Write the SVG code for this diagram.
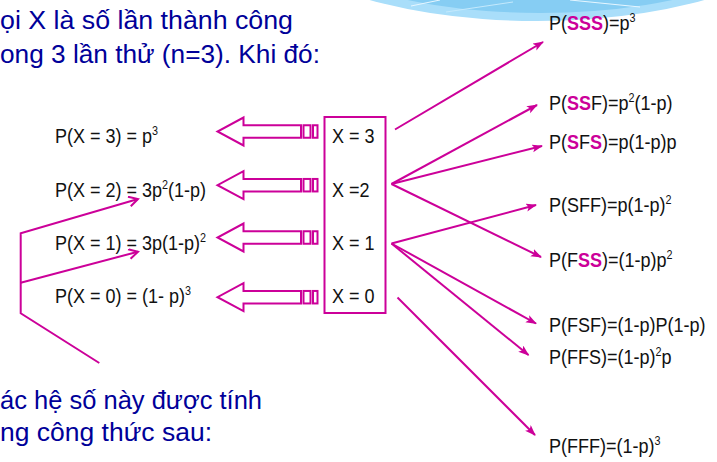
<svg xmlns="http://www.w3.org/2000/svg" width="717" height="462" viewBox="0 0 717 462">
<style>
.title{font-family:"Liberation Sans",Arial,sans-serif;font-size:25px;fill:#000099}
.lbl{font-family:"Liberation Sans",Arial,sans-serif;font-size:20px;fill:#111}
.hl{font-weight:bold;fill:#cc0099}
.sup{font-size:12px}
.ln{fill:none;stroke:#cc0099;stroke-width:2}
.blk{fill:#fff;stroke:#cc0099;stroke-width:2;stroke-linejoin:miter}
</style>
<defs>
<marker id="tri" markerUnits="userSpaceOnUse" markerWidth="12" markerHeight="9" refX="10" refY="4" orient="auto">
<path d="M0,0 L11,4 L0,8 L2.5,4 z" fill="#cc0099"/>
</marker>
<marker id="open" markerUnits="userSpaceOnUse" markerWidth="13" markerHeight="12" refX="10" refY="5.5" orient="auto">
<path d="M1,0.5 L10,5.5 L1,10.5" fill="none" stroke="#cc0099" stroke-width="2"/>
</marker>
<clipPath id="ec"><ellipse cx="537" cy="-84" rx="279" ry="105"/></clipPath>
<g id="blockArrow">
<path class="blk" d="M243.5,-6.25 L301,-6.25 L301,6.25 L243.5,6.25 L243.5,14 L217.5,0 L243.5,-14 Z"/>
<rect class="blk" x="303.5" y="-6.25" width="7" height="12.5"/>
<rect class="blk" x="313" y="-6.25" width="4.5" height="12.5"/>
</g>
</defs>

<g id="decoration">
<ellipse cx="537" cy="-84" rx="279" ry="105" fill="#a9defa"/>
<g clip-path="url(#ec)">
<ellipse cx="540" cy="-93" rx="276" ry="106" fill="#86cdf3"/>
<path d="M411,6 L440,0" stroke="#e6f6ff" stroke-width="1" fill="none"/>
<path d="M570,0 L640,7" stroke="#e6f6ff" stroke-width="1" fill="none"/>
<path d="M446,12 L513,2" stroke="#c4e9fc" stroke-width="1" fill="none"/>
</g>
</g>

<g id="title">
<text class="title" x="0" y="29" textLength="293" lengthAdjust="spacingAndGlyphs">ọi X là số lần thành công</text>
<text class="title" x="0" y="63" textLength="320" lengthAdjust="spacingAndGlyphs">ong 3 lần thử (n=3). Khi đó:</text>
</g>

<g id="note">
<text class="title" x="0" y="409" textLength="262" lengthAdjust="spacingAndGlyphs">ác hệ số này được tính</text>
<text class="title" x="0" y="441" textLength="212" lengthAdjust="spacingAndGlyphs">ng công thức sau:</text>
</g>

<g id="px3"><text class="lbl" transform="translate(55,143) scale(0.9,1)">P(X = 3) = p<tspan class="sup" dy="-8">3</tspan></text></g>
<g id="px2"><text class="lbl" transform="translate(55,197) scale(0.9,1)">P(X = 2) = 3p<tspan class="sup" dy="-8">2</tspan><tspan dy="8">(1-p)</tspan></text></g>
<g id="px1"><text class="lbl" transform="translate(55,249.5) scale(0.9,1)">P(X = 1) = 3p(1-p)<tspan class="sup" dy="-8">2</tspan></text></g>
<g id="px0"><text class="lbl" transform="translate(55,303) scale(0.9,1)">P(X = 0) = (1- p)<tspan class="sup" dy="-8">3</tspan></text></g>

<g id="xbox">
<rect x="324.5" y="117" width="61" height="196" fill="#fff" stroke="#cc0099" stroke-width="2"/>
<text class="lbl" transform="translate(332,143) scale(0.9,1)">X = 3</text>
<text class="lbl" transform="translate(332,197) scale(0.9,1)">X =2</text>
<text class="lbl" transform="translate(332,249.5) scale(0.9,1)">X = 1</text>
<text class="lbl" transform="translate(332,303) scale(0.9,1)">X = 0</text>
</g>

<g id="sss"><text class="lbl" transform="translate(549,30) scale(0.9,1)">P(<tspan class="hl">SSS</tspan>)=p<tspan class="sup" dy="-8">3</tspan></text></g>
<g id="ssf"><text class="lbl" transform="translate(549,109.5) scale(0.9,1)">P(<tspan class="hl">SS</tspan>F)=p<tspan class="sup" dy="-8">2</tspan><tspan dy="8">(1-p)</tspan></text></g>
<g id="sfs"><text class="lbl" transform="translate(549,148.5) scale(0.9,1)">P(<tspan class="hl">S</tspan>F<tspan class="hl">S</tspan>)=p(1-p)p</text></g>
<g id="sff"><text class="lbl" transform="translate(549,211.5) scale(0.9,1)">P(SFF)=p(1-p)<tspan class="sup" dy="-8">2</tspan></text></g>
<g id="fss"><text class="lbl" transform="translate(549,266.5) scale(0.9,1)">P(F<tspan class="hl">SS</tspan>)=(1-p)p<tspan class="sup" dy="-8">2</tspan></text></g>
<g id="fsf"><text class="lbl" transform="translate(549,331.5) scale(0.9,1)">P(FSF)=(1-p)P(1-p)</text></g>
<g id="ffs"><text class="lbl" transform="translate(549,364) scale(0.9,1)">P(FFS)=(1-p)<tspan class="sup" dy="-8">2</tspan><tspan dy="8">p</tspan></text></g>
<g id="fff"><text class="lbl" transform="translate(549,453) scale(0.9,1)">P(FFF)=(1-p)<tspan class="sup" dy="-8">3</tspan></text></g>

<g id="connectors">
<use href="#blockArrow" transform="translate(0,131.5)"/>
<use href="#blockArrow" transform="translate(0,185.2)"/>
<use href="#blockArrow" transform="translate(0,237.5)"/>
<use href="#blockArrow" transform="translate(0,297.2)"/>
<path class="ln" marker-end="url(#tri)" d="M395,129.5 L543,42"/>
<path class="ln" marker-end="url(#tri)" d="M391.5,184 L537,105"/>
<path class="ln" marker-end="url(#tri)" d="M391.5,184 L542,146"/>
<path class="ln" marker-end="url(#tri)" d="M391.5,184 L541,257"/>
<path class="ln" marker-end="url(#tri)" d="M391.5,243.5 L536,205"/>
<path class="ln" marker-end="url(#tri)" d="M391.5,243.5 L536,323.5"/>
<path class="ln" marker-end="url(#tri)" d="M391.5,243.5 L528.5,355"/>
<path class="ln" marker-end="url(#tri)" d="M397.5,297.5 L535,435"/>
<path class="ln" marker-end="url(#open)" d="M99.3,363 L20.7,313.3 L20.7,233.3 L138,199"/>
<path class="ln" marker-end="url(#open)" d="M20.7,282.7 L138,251.7"/>
</g>
</svg>
